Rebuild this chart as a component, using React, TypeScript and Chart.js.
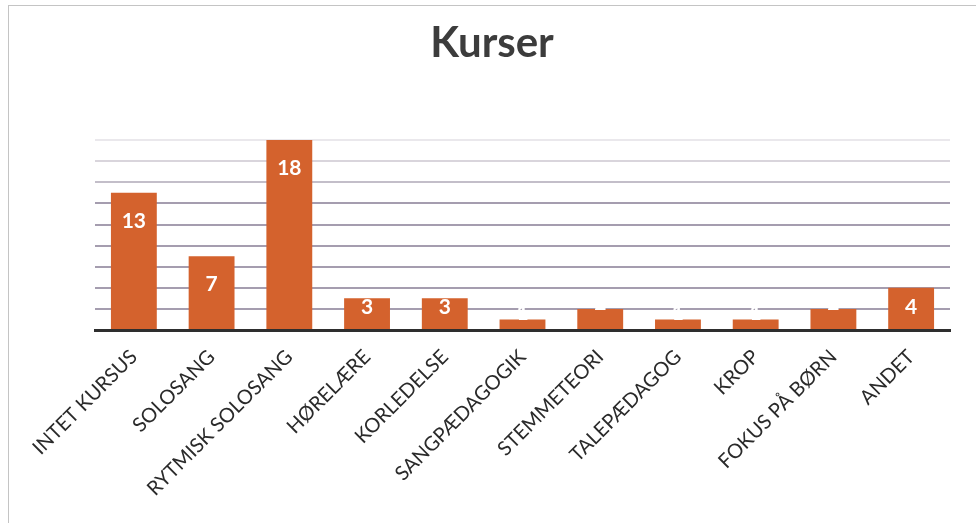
import React, { useEffect, useRef } from "react";
import { Chart, registerables } from "chart.js";

Chart.register(...registerables);

const TITLE = "Kurser";
const categories = [
  "INTET KURSUS",
  "SOLOSANG",
  "RYTMISK SOLOSANG",
  "HØRELÆRE",
  "KORLEDELSE",
  "SANGPÆDAGOGIK",
  "STEMMETEORI",
  "TALEPÆDAGOG",
  "KROP",
  "FOKUS PÅ BØRN",
  "ANDET",
];
const values = [13, 7, 18, 3, 3, 1, 2, 1, 1, 2, 4];
const yMax = 20;
const yStep = 2;

const BAR_COLOR = "#d4622d";

const labelPlugin = {
  id: "innerLabels",
  afterDatasetsDraw(chart: any) {
    const ctx = chart.ctx;
    const meta = chart.getDatasetMeta(0);
    ctx.save();
    ctx.fillStyle = "#ffffff";
    ctx.font = "bold 21px Lato";
    ctx.textAlign = "center";
    ctx.textBaseline = "middle";
    meta.data.forEach((el: any, i: number) => {
      const h = el.base - el.y;
      const off = h >= 28 ? Math.min(28, h - 22) : -6;
      ctx.fillText(String(values[i]), el.x, el.y + off);
    });
    ctx.restore();
  },
};

const titlePlugin = {
  id: "centerTitle",
  afterDraw(chart: any) {
    const ctx = chart.ctx;
    ctx.save();
    ctx.fillStyle = "#3c3c3c";
    ctx.font = "bold 42px Lato";
    ctx.textAlign = "center";
    ctx.textBaseline = "middle";
    ctx.fillText(TITLE, 492, 43);
    ctx.restore();
  },
};

export default function App() {
  const ref = useRef<HTMLCanvasElement>(null);
  useEffect(() => {
    document.body.style.margin = "0";
    const chart = new Chart(ref.current!, {
      type: "bar",
      data: {
        labels: categories,
        datasets: [
          {
            data: values,
            backgroundColor: BAR_COLOR,
            categoryPercentage: 1,
            barPercentage: 0.59,
          },
        ],
      },
      plugins: [labelPlugin, titlePlugin],
      options: {
        animation: false,
        responsive: false,
        layout: { padding: { left: 95, right: 26, top: 119, bottom: 0 } },
        plugins: {
          legend: { display: false },
          tooltip: { enabled: false },
          title: { display: false },
        },
        scales: {
          x: {
            grid: { display: false, drawTicks: false },
            border: { display: true, color: "#2e2e2e", width: 3 },
            ticks: {
              color: "#2a2a2a",
              font: { family: "Lato", size: 20 },
              minRotation: 45,
              maxRotation: 45,
              autoSkip: false,
              padding: 15,
            },
            afterFit: (scale: any) => {
              scale.height = 193;
            },
          },
          y: {
            min: 0,
            max: yMax,
            ticks: { display: false, stepSize: yStep },
            border: { display: false },
            grid: {
              drawTicks: false,
              lineWidth: 2,
              color: (c: any) => {
                const v = c.tick ? c.tick.value : 0;
                if (v >= 20) return "rgba(0,0,0,0)";
                if (v >= 18) return "rgba(170,162,178,0.25)";
                if (v >= 16) return "rgba(170,162,178,0.45)";
                if (v >= 14) return "rgba(170,162,178,0.7)";
                return "rgba(165,157,175,1)";
              },
            },
          },
        },
      },
    });
    return () => chart.destroy();
  }, []);
  return (
    <div style={{ position: "fixed", left: 0, top: 0, width: 976, height: 523, background: "#ffffff" }}>
      <canvas ref={ref} width={976} height={523} style={{ position: "absolute", left: 0, top: 0 }} />
      <div
        style={{
          position: "absolute",
          left: 8,
          top: 5,
          right: 0,
          bottom: 0,
          borderLeft: "1px solid #c4c4c4",
          borderTop: "1px solid #c4c4c4",
          pointerEvents: "none",
        }}
      />
    </div>
  );
}
